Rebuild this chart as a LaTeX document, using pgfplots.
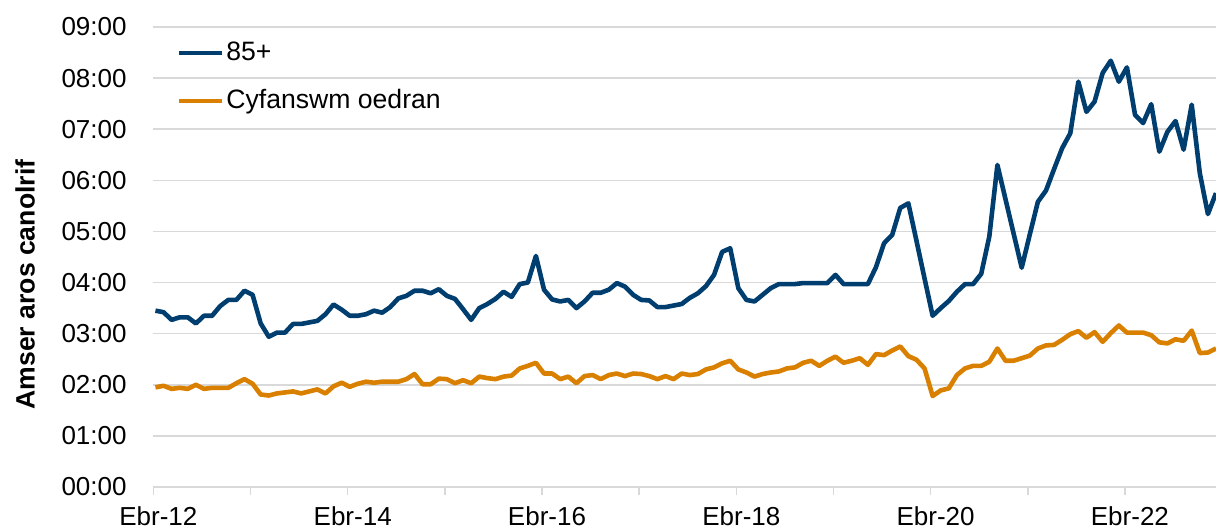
\documentclass[border=0pt]{standalone}
\usepackage{fontspec}
\setmainfont{Liberation Sans}
\usepackage{pgfplots}
\pgfplotsset{compat=1.18}
\usepackage{pgfplotstable}

\definecolor{navy}{RGB}{0,62,112}
\definecolor{amber}{RGB}{218,128,0}
\definecolor{gridgrey}{RGB}{217,217,217}

% month index (0 = Apr 2012), median wait in hours
\pgfplotstableread{
m v
0 3.45
1 3.42
2 3.27
3 3.32
4 3.32
5 3.20
6 3.35
7 3.35
8 3.54
9 3.66
10 3.66
11 3.84
12 3.76
13 3.20
14 2.94
15 3.02
16 3.02
17 3.19
18 3.19
19 3.22
20 3.25
21 3.38
22 3.57
23 3.47
24 3.35
25 3.35
26 3.38
27 3.45
28 3.41
29 3.52
30 3.69
31 3.74
32 3.84
33 3.84
34 3.79
35 3.87
36 3.74
37 3.68
38 3.48
39 3.27
40 3.50
41 3.58
42 3.68
43 3.82
44 3.72
45 3.97
46 4.00
47 4.52
48 3.86
49 3.67
50 3.63
51 3.66
52 3.50
53 3.63
54 3.80
55 3.80
56 3.86
57 3.99
58 3.92
59 3.76
60 3.66
61 3.65
62 3.52
63 3.52
64 3.55
65 3.58
66 3.70
67 3.79
68 3.93
69 4.15
70 4.60
71 4.67
72 3.89
73 3.66
74 3.63
75 3.76
76 3.89
77 3.97
78 3.97
79 3.97
80 3.99
81 3.99
82 3.99
83 3.99
84 4.15
85 3.97
86 3.97
87 3.97
88 3.97
89 4.30
90 4.77
91 4.93
92 5.46
93 5.55
94 4.82
95 4.08
96 3.35
97 3.50
98 3.64
99 3.82
100 3.97
101 3.97
102 4.17
103 4.90
104 6.30
105 5.63
106 4.96
107 4.29
108 4.94
109 5.58
110 5.80
111 6.22
112 6.63
113 6.92
114 7.93
115 7.34
116 7.54
117 8.10
118 8.34
119 7.93
120 8.21
121 7.28
122 7.12
123 7.49
124 6.56
125 6.95
126 7.16
127 6.60
128 7.48
129 6.14
130 5.34
131 5.75
}\oldest

\pgfplotstableread{
m v
0 1.95
1 1.98
2 1.92
3 1.94
4 1.92
5 2.00
6 1.92
7 1.94
8 1.94
9 1.94
10 2.03
11 2.11
12 2.02
13 1.81
14 1.79
15 1.83
16 1.85
17 1.87
18 1.83
19 1.87
20 1.91
21 1.83
22 1.97
23 2.04
24 1.96
25 2.02
26 2.06
27 2.04
28 2.06
29 2.06
30 2.06
31 2.11
32 2.21
33 2.01
34 2.01
35 2.12
36 2.11
37 2.03
38 2.09
39 2.03
40 2.16
41 2.13
42 2.11
43 2.16
44 2.18
45 2.32
46 2.37
47 2.43
48 2.22
49 2.22
50 2.11
51 2.16
52 2.03
53 2.17
54 2.19
55 2.11
56 2.19
57 2.22
58 2.17
59 2.22
60 2.21
61 2.17
62 2.11
63 2.17
64 2.11
65 2.22
66 2.19
67 2.21
68 2.30
69 2.34
70 2.42
71 2.47
72 2.30
73 2.24
74 2.16
75 2.21
76 2.24
77 2.26
78 2.32
79 2.34
80 2.43
81 2.47
82 2.37
83 2.47
84 2.55
85 2.43
86 2.47
87 2.52
88 2.39
89 2.60
90 2.58
91 2.67
92 2.75
93 2.56
94 2.49
95 2.32
96 1.78
97 1.89
98 1.93
99 2.19
100 2.32
101 2.37
102 2.37
103 2.45
104 2.71
105 2.47
106 2.47
107 2.52
108 2.57
109 2.71
110 2.77
111 2.78
112 2.88
113 2.99
114 3.05
115 2.92
116 3.03
117 2.84
118 3.01
119 3.16
120 3.02
121 3.02
122 3.02
123 2.97
124 2.83
125 2.81
126 2.89
127 2.86
128 3.06
129 2.62
130 2.63
131 2.71
}\allages

\begin{document}
\begin{tikzpicture}
\begin{axis}[
  name=ax,
  scale only axis,
  width=531.5pt, height=230pt,
  xmin=-0.3, xmax=131,
  ymin=0, ymax=9,
  ytick={0,1,...,9},
  yticklabels={00:00,01:00,02:00,03:00,04:00,05:00,06:00,07:00,08:00,09:00},
  xtick={-0.25,11.75,...,119.75},
  xticklabels={Ebr-12,,Ebr-14,,Ebr-16,,Ebr-18,,Ebr-20,,Ebr-22},
  tick label style={font=\fontsize{13}{15}\selectfont, inner sep=0pt},
  xticklabel style={yshift=-5.5pt, xshift=2.5pt},
  yticklabel style={xshift=-9pt},
  axis line style={draw=none},
  tick align=outside,
  major tick length=4pt,
  xtick pos=bottom,
  xtick style={draw=gridgrey, line width=0.75pt},
  ytick style={draw=none},
  ymajorgrids,
  grid style={gridgrey, line width=0.75pt},
  ylabel={Amser aros canolrif},
  ylabel style={at={(axis description cs:-0.1204,0.44)}, anchor=center,
    font=\fontsize{13.3}{16}\selectfont\bfseries},
  legend style={draw=none, fill=none, at={(axis description cs:0,1)},
    anchor=north west, xshift=9pt, yshift=-4pt,
    font=\fontsize{13.3}{16}\selectfont, row sep=10pt,
    nodes={inner sep=1pt, text height=9.5pt, text depth=2.5pt}},
  legend cell align=left,
  legend image code/.code={\draw[#1, line width=2pt] (0pt,0pt) -- (21.5pt,0pt);},
  every axis plot/.append style={line width=2.3pt, line join=round},
]
\addplot[navy] table[x=m, y=v] {\oldest};
\addlegendentry{85+}
\addplot[amber] table[x=m, y=v] {\allages};
\addlegendentry{Cyfanswm oedran}
\end{axis}
\pgfresetboundingbox
\path[use as bounding box] ([xshift=-76.5pt,yshift=-21pt]ax.south west) rectangle ([yshift=13.5pt]ax.north east);
\end{tikzpicture}
\end{document}
